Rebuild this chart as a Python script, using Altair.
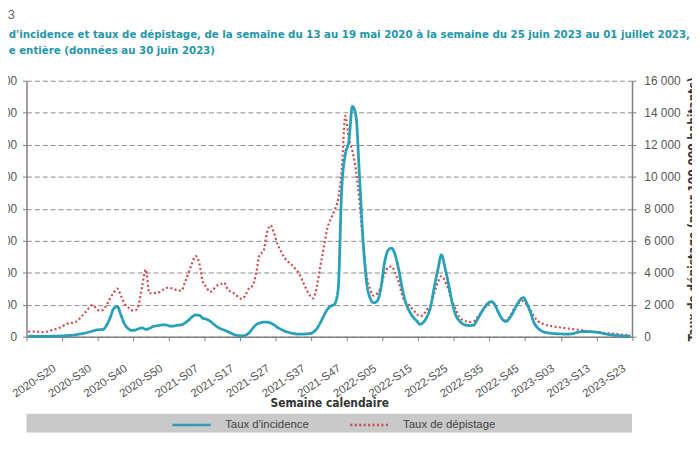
import json
import altair as alt
import pandas as pd

# ---------------- data ----------------
TITLE_NUM = "3"
TITLE_L1 = ("d'incidence et taux de dépistage, de la semaine du 13 au 19 mai 2020 "
            "à la semaine du 25 juin 2023 au 01 juillet 2023,")
TITLE_L2 = "e entière (données au 30 juin 2023)"
X_TITLE = "Semaine calendaire"
Y2_TITLE = "Taux de dépistage (pour 100 000 habitants)"
SERIES = ["Taux d'incidence", "Taux de dépistage"]

TICK_LABELS = ["2020-S20", "2020-S30", "2020-S40", "2020-S50", "2021-S07", "2021-S17",
               "2021-S27", "2021-S37", "2021-S47", "2022-S05", "2022-S15", "2022-S25",
               "2022-S35", "2022-S45", "2023-S03", "2023-S13", "2023-S23"]

# weekly values, one per category position (left axis, per 100 000)
INCIDENCE = [
    10, 8, 7, 6, 6, 6, 7, 8, 10, 12,
    15, 18, 22, 28, 38, 46, 58, 72, 88, 104,
    110, 115, 180, 300, 440, 470, 340, 200, 130, 100,
    105, 125, 138, 115, 130, 160, 170, 180, 185, 180,
    165, 170, 180, 185, 215, 260, 310, 340, 335, 290,
    275, 245, 200, 155, 125, 105, 80, 55, 30, 18,
    15, 25, 60, 130, 190, 215, 228, 230, 215, 185,
    145, 115, 88, 70, 55, 45, 40, 40, 45, 50,
    70, 125, 220, 330, 430, 480, 510, 740, 2300, 2850,
    3050, 3600, 3450, 2500, 1500, 850, 600, 530, 560, 760,
    1150, 1350, 1385, 1280, 1050, 750, 530, 400, 310, 250,
    195, 230, 320, 480, 780, 1050, 1280, 1080, 820, 540,
    340, 250, 200, 180, 175, 180, 260, 360, 450, 520,
    550, 500, 380, 280, 240, 280, 370, 480, 570, 612,
    520, 380, 220, 140, 95, 70, 60, 52, 48, 45,
    43, 42, 42, 50, 65, 78, 82, 80, 78, 74,
    68, 58, 45, 34, 28, 22, 18, 14, 11, 9,
]

# weekly values (right axis, per 100 000)
DEPISTAGE = [
    320, 328, 320, 300, 288, 300, 360, 440, 500, 580,
    700, 820, 860, 900, 1040, 1280, 1520, 1800, 1980, 1800,
    1620, 1680, 2000, 2400, 2760, 3010, 2560, 2080, 1840, 1660,
    1640, 2000, 3200, 4200, 2720, 2720, 2760, 2800, 2960, 3060,
    3040, 2980, 2880, 2880, 3400, 4000, 4600, 5040, 4600, 3440,
    3120, 2800, 2960, 3200, 3280, 3380, 2960, 2800, 2680, 2480,
    2360, 2600, 3040, 3200, 4000, 5160, 5320, 6480, 6960, 6480,
    5760, 5320, 4920, 4680, 4480, 4240, 3960, 3480, 3000, 2600,
    2400, 3120, 4400, 5600, 6800, 7400, 7920, 8600, 10400, 13800,
    12400, 11600, 10400, 8400, 5800, 3800, 2960, 2560, 2720, 3120,
    3920, 4320, 4400, 4000, 3440, 2560, 2120, 1960, 1680, 1440,
    1280, 1400, 1720, 2000, 2720, 3400, 3780, 3480, 2920, 2240,
    1720, 1240, 1040, 960, 920, 960, 1200, 1480, 1760, 2000,
    2144, 2000, 1520, 1160, 1020, 1200, 1600, 1920, 2160, 2240,
    2000, 1680, 1280, 1000, 860, 760, 700, 660, 620, 592,
    560, 528, 500, 472, 452, 420, 392, 360, 328, 300,
    280, 256, 232, 208, 192, 180, 152, 120, 100, 80,
]

N = len(INCIDENCE)
GROUP = 10
X_MAX = GROUP * len(TICK_LABELS)

COLORS = ["#27a0b8", "#d2454a"]
DASHES = [[1, 0], [2, 2.5]]

TITLE_FONT = "DejaVu Sans Condensed, sans-serif"
BODY_FONT = "Liberation Sans, Arial, sans-serif"

W, H = 612.6, 259

df_inc = pd.DataFrame({"pos": [i + 0.5 for i in range(N)], "valeur": INCIDENCE, "serie": SERIES[0]})
df_dep = pd.DataFrame({"pos": [i + 0.5 for i in range(N)], "valeur": DEPISTAGE, "serie": SERIES[1]})
one = pd.DataFrame({"k": [0]})

label_expr_x = json.dumps(TICK_LABELS) + "[round(datum.value / 10)] || ''"
num_expr = "replace(format(datum.value, ','), ',', ' ')"

legend = alt.Legend(
    title=None, orient="none", legendX=146, legendY=327, direction="horizontal",
    symbolType="stroke", symbolSize=1500, symbolStrokeWidth=2.5, labelFont=BODY_FONT,
    labelFontSize=11.5, labelColor="#444444", labelOffset=13, columnPadding=36, padding=0,
)
color = alt.Color("serie:N", scale=alt.Scale(domain=SERIES, range=COLORS), legend=legend)
dash = alt.StrokeDash("serie:N", scale=alt.Scale(domain=SERIES, range=DASHES), legend=legend)

x_enc = alt.X(
    "pos:Q",
    scale=alt.Scale(domain=[0, X_MAX], nice=False, zero=False),
    axis=alt.Axis(
        values=list(range(0, X_MAX + 1, GROUP)), labelExpr=label_expr_x,
        labelAngle=326, labelAlign="right", labelBaseline="top", labelOffset=25,
        labelPadding=22, tickSize=4, tickColor="#7f7f7f", domainColor="#7f7f7f",
        domainWidth=1.5, labelFont=BODY_FONT, labelFontSize=11.5, labelColor="#555555",
        grid=False, title=X_TITLE, titleFont=TITLE_FONT, titleFontSize=12,
        titleFontWeight="bold", titleColor="#333333", titleY=67, titleBaseline="middle",
        labelOverlap=False,
    ),
)

rect = alt.Chart(one).mark_rect(color="#c9c9c9").encode(
    x=alt.value(0), x2=alt.value(W), y=alt.value(337), y2=alt.value(356)
)

dep = alt.Chart(df_dep).mark_line(strokeWidth=2.2, interpolate="monotone").encode(
    x=x_enc,
    y=alt.Y("valeur:Q", scale=alt.Scale(domain=[0, 16000], nice=False),
            axis=alt.Axis(orient="right", values=list(range(0, 16001, 2000)), labelExpr=num_expr,
                          tickSize=4, tickColor="#7f7f7f", domainColor="#7f7f7f", domainWidth=1.5,
                          labelPadding=8, labelFont=BODY_FONT, labelFontSize=12,
                          labelColor="#555555", grid=False, title=Y2_TITLE, titleAngle=270,
                          titleX=56, titleY=H / 2, titleBaseline="top", titleFont=TITLE_FONT,
                          titleFontSize=12, titleFontWeight="bold", titleColor="#333333")),
    color=color, strokeDash=dash,
)

inc = alt.Chart(df_inc).mark_line(strokeWidth=2.8, interpolate="monotone").encode(
    x=x_enc,
    y=alt.Y("valeur:Q", scale=alt.Scale(domain=[0, 4000], nice=False),
            axis=alt.Axis(orient="left", values=list(range(0, 4001, 500)), labelExpr=num_expr,
                          tickSize=4, tickColor="#7f7f7f", domainColor="#7f7f7f", domainWidth=1.5,
                          labelPadding=6, labelFont=BODY_FONT, labelFontSize=12,
                          labelColor="#555555", grid=True, gridDash=[5, 3], gridColor="#8a8a8a",
                          gridWidth=1, title="")),
    color=color, strokeDash=dash,
)

t0 = alt.Chart(one).mark_text(text=TITLE_NUM, align="left", baseline="alphabetic", font=BODY_FONT,
                              fontSize=13, color="#666666").encode(x=alt.value(-19), y=alt.value(-62))
t1 = alt.Chart(one).mark_text(text=TITLE_L1, align="left", baseline="alphabetic", font=TITLE_FONT,
                              fontSize=11.5, fontWeight="bold", color="#1f96aa").encode(
    x=alt.value(-18), y=alt.value(-43.5))
t2 = alt.Chart(one).mark_text(text=TITLE_L2, align="left", baseline="alphabetic", font=TITLE_FONT,
                              fontSize=11.5, fontWeight="bold", color="#1f96aa").encode(
    x=alt.value(-18), y=alt.value(-27))

chart = alt.layer(rect, dep, inc, t0, t1, t2).resolve_scale(y="independent").properties(
    width=W, height=H,
    autosize=alt.AutoSizeParams(type="none"),
    padding={"left": 18.7, "top": 71, "right": 60.7, "bottom": 112},
).configure_view(stroke=None)

chart.save("out.html", embed_options={"renderer": "svg", "actions": False})
